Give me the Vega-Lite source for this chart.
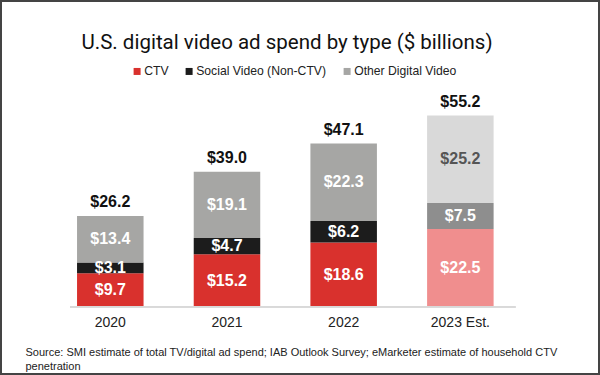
{
  "$schema": "https://vega.github.io/schema/vega-lite/v6.json",
  "width": 600,
  "height": 375,
  "autosize": {"type": "none"},
  "padding": 0,
  "background": "white",
  "config": {"view": {"stroke": "#444444", "strokeWidth": 4}, "font": "Liberation Sans"},
  "title": {
    "text": "U.S. digital video ad spend by type ($ billions)",
    "font": "Roboto",
    "fontSize": 20.5,
    "fontWeight": "normal",
    "color": "#111111",
    "anchor": "middle",
    "frame": "group",
    "offset": 0,
    "dx": -13,
    "dy": 53
  },
  "data": {
    "values": [
      {"year": "2020", "series": "CTV", "value": 9.7, "ord": 1},
      {"year": "2020", "series": "Social Video (Non-CTV)", "value": 3.1, "ord": 2},
      {"year": "2020", "series": "Other Digital Video", "value": 13.4, "ord": 3},
      {"year": "2021", "series": "CTV", "value": 15.2, "ord": 1},
      {"year": "2021", "series": "Social Video (Non-CTV)", "value": 4.7, "ord": 2},
      {"year": "2021", "series": "Other Digital Video", "value": 19.1, "ord": 3},
      {"year": "2022", "series": "CTV", "value": 18.6, "ord": 1},
      {"year": "2022", "series": "Social Video (Non-CTV)", "value": 6.2, "ord": 2},
      {"year": "2022", "series": "Other Digital Video", "value": 22.3, "ord": 3},
      {"year": "2023 Est.", "series": "CTV est", "value": 22.5, "ord": 1},
      {"year": "2023 Est.", "series": "Social est", "value": 7.5, "ord": 2},
      {"year": "2023 Est.", "series": "Other est", "value": 25.2, "ord": 3}
    ]
  },
  "layer": [
    {
      "mark": {"type": "bar"},
      "encoding": {
        "x": {
          "field": "year", "type": "nominal",
          "scale": {"domain": ["2020", "2021", "2022", "2023 Est."], "paddingInner": 0.43, "paddingOuter": 0.786, "align": 0.42, "round": false},
          "axis": {
            "orient": "bottom", "offset": -68, "domain": false, "ticks": false, "grid": false,
            "labelPadding": 8, "labelFontSize": 14, "labelColor": "#222222", "labelFont": "Liberation Sans", "labelAngle": 0,
            "title": ["Source: SMI estimate of total TV/digital ad spend; IAB Outlook Survey; eMarketer estimate of household CTV", "penetration"],
            "titleFont": "Liberation Sans", "titleFontSize": 11, "titleFontWeight": "normal", "titleColor": "#222222",
            "titleAnchor": "start", "titleAlign": "left", "titleX": 25, "titleY": 39, "titleBaseline": "top", "titleLineHeight": 14
          }
        },
        "y": {
          "field": "value", "type": "quantitative", "stack": "zero",
          "scale": {"domain": [-19.6, 88.5], "nice": false, "zero": false},
          "axis": null
        },
        "order": {"field": "ord", "type": "quantitative"},
        "color": {
          "field": "series", "type": "nominal",
          "scale": {
            "domain": ["CTV", "Social Video (Non-CTV)", "Other Digital Video", "CTV est", "Social est", "Other est"],
            "range": ["#d9312d", "#1c1c1c", "#a6a6a4", "#f08e8e", "#8e8e8e", "#d9d9d9"]
          },
          "legend": {
            "values": ["CTV", "Social Video (Non-CTV)", "Other Digital Video"],
            "orient": "none", "legendX": 131, "legendY": 65, "direction": "horizontal",
            "title": null, "symbolType": "square", "symbolSize": 49, "symbolStrokeWidth": 0,
            "labelFont": "Liberation Sans", "labelFontSize": 12.2, "labelColor": "#222222",
            "labelOffset": 1, "columnPadding": 14, "padding": 0
          }
        }
      }
    },
    {
      "mark": {"type": "rule", "color": "#d9d9d9", "strokeWidth": 1, "xOffset": -40, "x2Offset": 55},
      "encoding": {
        "x": {"datum": "2020", "type": "nominal"},
        "x2": {"datum": "2023 Est."},
        "y": {"datum": 0, "type": "quantitative"}
      }
    },
    {
      "transform": [
        {"stack": "value", "groupby": ["year"], "sort": [{"field": "ord", "order": "ascending"}], "as": ["v0", "v1"]},
        {"calculate": "(datum.v0 + datum.v1) / 2", "as": "mid"}
      ],
      "mark": {"type": "text", "font": "Liberation Sans", "fontSize": 16, "fontWeight": "bold", "baseline": "middle", "align": "center"},
      "encoding": {
        "x": {"field": "year", "type": "nominal"},
        "y": {"field": "mid", "type": "quantitative", "scale": {"domain": [-19.6, 88.5], "nice": false, "zero": false}},
        "text": {"field": "value", "type": "quantitative", "format": "$.1f"},
        "color": {"condition": {"test": "datum.series === 'Other est'", "value": "#555555"}, "value": "#ffffff"}
      }
    },
    {
      "transform": [
        {"aggregate": [{"op": "sum", "field": "value", "as": "total"}], "groupby": ["year"]}
      ],
      "mark": {"type": "text", "font": "Liberation Sans", "fontSize": 16, "fontWeight": "bold", "baseline": "middle", "align": "center", "dy": -14, "color": "#111111"},
      "encoding": {
        "x": {"field": "year", "type": "nominal"},
        "y": {"field": "total", "type": "quantitative", "scale": {"domain": [-19.6, 88.5], "nice": false, "zero": false}},
        "text": {"field": "total", "type": "quantitative", "format": "$.1f"}
      }
    }
  ]
}
